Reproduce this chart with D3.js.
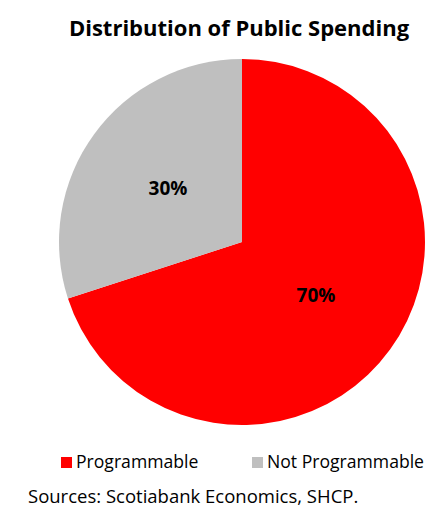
<!DOCTYPE html>
<html><head><meta charset="utf-8">
<script src="https://cdn.jsdelivr.net/npm/d3@7"></script>
<style>body{margin:0;background:#fff;}svg{display:block;}</style>
</head><body>
<script>
const categories = ["Programmable", "Not Programmable"];
const values = [70, 30];
const labels = ["70%", "30%"];
const colors = ["#FF0000", "#BFBFBF"];

const W = 428, H = 508;
const svg = d3.select("body").append("svg").attr("width", W).attr("height", H);
const font = "'Open Sans', sans-serif";

svg.append("text").attr("x", 239).attr("y", 36).attr("text-anchor", "middle")
  .attr("font-family", font).attr("font-weight", "bold").attr("font-size", 22)
  .attr("fill", "#000").text("Distribution of Public Spending");

const cx = 242, cy = 242, r = 183;
const pie = d3.pie().sort(null).value(d => d);
const arcs = pie(values);
const arc = d3.arc().innerRadius(0).outerRadius(r);
const g = svg.append("g").attr("transform", `translate(${cx},${cy})`);
g.selectAll("path").data(arcs).join("path").attr("d", arc).attr("fill", (d, i) => colors[i]);

const labelArc = d3.arc().innerRadius(r * 0.5).outerRadius(r * 0.5);
g.selectAll("text").data(arcs).join("text")
  .attr("transform", d => `translate(${labelArc.centroid(d)})`)
  .attr("text-anchor", "middle").attr("dy", "0.35em")
  .attr("font-family", font).attr("font-weight", "bold").attr("font-size", 19)
  .attr("fill", "#000").text((d, i) => labels[i]);

const legX = [61, 252];
const lg = svg.selectAll("g.leg").data(categories).join("g").attr("class", "leg")
  .attr("transform", (d, i) => `translate(${legX[i]},457)`);
lg.append("rect").attr("width", 11).attr("height", 11).attr("fill", (d, i) => colors[i]);
lg.append("text").attr("x", 15).attr("y", 11).attr("font-family", font).attr("font-size", 17.6)
  .attr("fill", "#000").text(d => d);

svg.append("text").attr("x", 28).attr("y", 503).attr("font-family", font).attr("font-size", 18.5)
  .attr("fill", "#000").text("Sources: Scotiabank Economics, SHCP.");
</script>
</body></html>
